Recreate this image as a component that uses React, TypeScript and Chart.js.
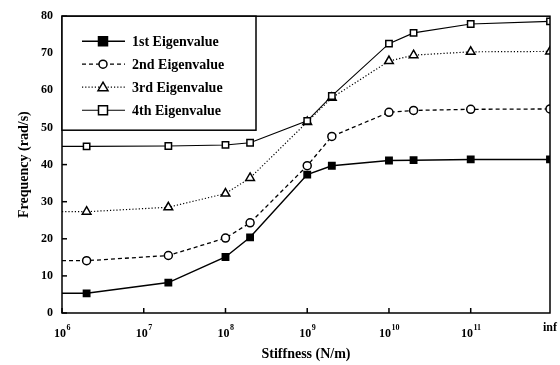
import React, { useEffect, useRef } from "react";
import { Chart, registerables } from "chart.js";

Chart.register(...registerables);

// Stiffness values (N/m) of the computed points; Infinity = rigid support
const stiffness = [2e6, 2e7, 1e8, 2e8, 1e9, 2e9, 1e10, 2e10, 1e11, Infinity];
const first = [5.3, 8.2, 15.1, 20.4, 37.3, 39.7, 41.1, 41.2, 41.4, 41.4];
const second = [14.1, 15.5, 20.2, 24.3, 39.7, 47.6, 54.1, 54.6, 54.9, 55.0];
const third = [27.3, 28.5, 32.2, 36.4, 51.5, 58.0, 67.9, 69.5, 70.4, 70.5];
const fourth = [44.9, 45.0, 45.3, 45.9, 51.8, 58.5, 72.6, 75.5, 77.9, 78.6];
const seriesNames = ["1st Eigenvalue", "2nd Eigenvalue", "3rd Eigenvalue", "4th Eigenvalue"];
const xTickValues = [6, 7, 8, 9, 10, 11];
const xTickExponents = ["6", "7", "8", "9", "10", "11"];
const xInfLabel = "inf";
const yTicks = [0, 10, 20, 30, 40, 50, 60, 70, 80];

const X_MIN = 6;
const X_INF = 11.97;
const FONT = "'Liberation Serif', 'Times New Roman', serif";

type Style = { dash: number[]; width: number; marker: string; filled: boolean; r: number };
const styles: Style[] = [
  { dash: [], width: 1.5, marker: "rect", filled: true, r: 4.5 },
  { dash: [4, 3], width: 1.3, marker: "circle", filled: false, r: 4 },
  { dash: [1.2, 2], width: 1.2, marker: "triangle", filled: false, r: 5 },
  { dash: [], width: 1.1, marker: "rect", filled: false, r: 4.5 },
];

function toPoints(vals: number[]) {
  const pts = [{ x: X_MIN, y: vals[0] }];
  stiffness.forEach((s, i) => {
    pts.push({ x: s === Infinity ? X_INF : Math.log10(s), y: vals[i] });
  });
  return pts;
}

function drawMarker(ctx: CanvasRenderingContext2D, st: Style, x: number, y: number) {
  ctx.save();
  ctx.setLineDash([]);
  ctx.lineWidth = 1.5;
  ctx.strokeStyle = "#000";
  ctx.fillStyle = st.filled ? "#000" : "#fff";
  ctx.beginPath();
  const r = st.r;
  if (st.marker === "rect") {
    ctx.rect(x - r, y - r, 2 * r, 2 * r);
  } else if (st.marker === "circle") {
    ctx.arc(x, y, r, 0, Math.PI * 2);
  } else {
    ctx.moveTo(x, y - r);
    ctx.lineTo(x + r, y + r * 0.7);
    ctx.lineTo(x - r, y + r * 0.7);
    ctx.closePath();
  }
  ctx.fill();
  ctx.stroke();
  ctx.restore();
}

const framePlugin = {
  id: "frame",
  afterDatasetsDraw(chart: any) {
    const { ctx, chartArea } = chart;
    const { left, right, top, bottom } = chartArea;
    const xs = chart.scales.x;
    const ys = chart.scales.y;
    ctx.save();
    ctx.strokeStyle = "#000";
    ctx.lineWidth = 1.5;
    ctx.setLineDash([]);
    ctx.strokeRect(left, top, right - left, bottom - top);
    // inward ticks
    xTickValues.forEach((v) => {
      const px = xs.getPixelForValue(v);
      ctx.beginPath();
      ctx.moveTo(px, bottom);
      ctx.lineTo(px, bottom - 5);
      ctx.stroke();
    });
    yTicks.forEach((v) => {
      const py = ys.getPixelForValue(v);
      ctx.beginPath();
      ctx.moveTo(left, py);
      ctx.lineTo(left + 5, py);
      ctx.stroke();
    });
    // x tick labels with superscript exponents
    ctx.fillStyle = "#000";
    ctx.textBaseline = "alphabetic";
    xTickValues.forEach((v, i) => {
      const px = xs.getPixelForValue(v);
      ctx.font = `bold 12px ${FONT}`;
      const bw = ctx.measureText("10").width;
      ctx.font = `bold 8px ${FONT}`;
      const ew = ctx.measureText(xTickExponents[i]).width;
      const x0 = px - (bw + ew) / 2;
      ctx.font = `bold 12px ${FONT}`;
      ctx.textAlign = "left";
      ctx.fillText("10", x0, bottom + 24);
      ctx.font = `bold 8px ${FONT}`;
      ctx.fillText(xTickExponents[i], x0 + bw + 0.5, bottom + 17);
    });
    ctx.font = `bold 12px ${FONT}`;
    ctx.textAlign = "center";
    ctx.fillText(xInfLabel, xs.getPixelForValue(X_INF), bottom + 18);
    // legend
    const bx = left, by = top, bw = 194, bh = 114;
    ctx.fillStyle = "#fff";
    ctx.fillRect(bx, by, bw, bh);
    ctx.lineWidth = 1.5;
    ctx.strokeRect(bx, by, bw, bh);
    ctx.font = `bold 14px ${FONT}`;
    ctx.textAlign = "left";
    ctx.textBaseline = "middle";
    ctx.fillStyle = "#000";
    seriesNames.forEach((name, i) => {
      const st = styles[i];
      const y = by + 25 + i * 23;
      ctx.save();
      ctx.lineWidth = st.width;
      ctx.setLineDash(st.dash);
      ctx.beginPath();
      ctx.moveTo(bx + 20, y);
      ctx.lineTo(bx + 63, y);
      ctx.stroke();
      ctx.restore();
      drawMarker(ctx, st, bx + 41, y);
      ctx.fillStyle = "#000";
      ctx.fillText(name, bx + 70, y + 1);
    });
    ctx.restore();
  },
};

export default function App() {
  const ref = useRef<HTMLCanvasElement>(null);
  useEffect(() => {
    const seriesVals = [first, second, third, fourth];
    const datasets = seriesVals.map((vals, i) => {
      const st = styles[i];
      const n = vals.length + 1;
      return {
        label: seriesNames[i],
        data: toPoints(vals),
        borderColor: "#000",
        borderWidth: st.width,
        borderDash: st.dash,
        backgroundColor: st.filled ? "#000" : "#fff",
        pointStyle: st.marker,
        pointRadius: Array.from({ length: n }, (_, k) => (k === 0 ? 0 : st.r)),
        pointBorderWidth: 1.5,
        pointBorderColor: "#000",
        pointBackgroundColor: st.filled ? "#000" : "#fff",
        tension: 0,
        fill: false,
        order: 3 - i,
      };
    });
    const chart = new Chart(ref.current!, {
      type: "line",
      data: { datasets },
      plugins: [framePlugin],
      options: {
        animation: false,
        responsive: false,
        maintainAspectRatio: false,
        layout: { padding: { left: 0, right: 10, top: 13, bottom: 0 } },
        plugins: { legend: { display: false }, tooltip: { enabled: false } },
        scales: {
          x: {
            type: "linear",
            min: X_MIN,
            max: X_INF,
            afterBuildTicks: (scale: any) => {
              scale.ticks = [...xTickValues, X_INF].map((v) => ({ value: v }));
            },
            afterFit: (scale: any) => {
              scale.height = 52;
            },
            grid: { display: false, drawTicks: false },
            border: { display: false },
            ticks: { display: false },
            title: {
              display: true,
              text: "Stiffness (N/m)",
              color: "#000",
              font: { family: FONT, size: 14, weight: "bold" },
              padding: { top: 0, bottom: 2 },
            },
          },
          y: {
            min: 0,
            max: 80,
            afterBuildTicks: (scale: any) => {
              scale.ticks = yTicks.map((v) => ({ value: v }));
            },
            afterFit: (scale: any) => {
              scale.width = 62;
            },
            grid: { display: false, drawTicks: false },
            border: { display: false },
            ticks: {
              padding: 9,
              color: "#000",
              font: { family: FONT, size: 12, weight: "bold" },
            },
            title: {
              display: true,
              text: "Frequency (rad/s)",
              color: "#000",
              font: { family: FONT, size: 14, weight: "bold" },
              padding: { top: 16, bottom: 0 },
            },
          },
        },
      },
    } as any);
    return () => chart.destroy();
  }, []);
  return (
    <div style={{ position: "fixed", left: 0, top: 0, width: 560, height: 365, background: "#fff" }}>
      <canvas ref={ref} width={560} height={365} style={{ display: "block" }} />
    </div>
  );
}
